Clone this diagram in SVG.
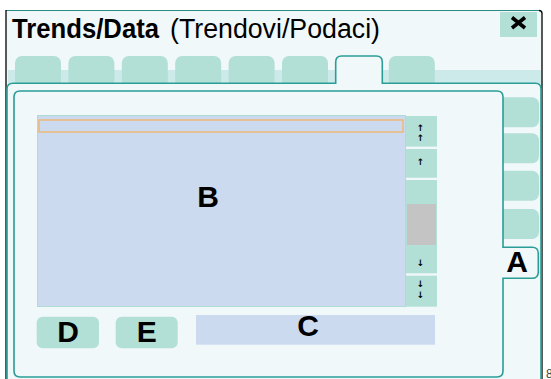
<svg xmlns="http://www.w3.org/2000/svg" width="551" height="379" viewBox="0 0 551 379">
<style>
.tab{fill:#b2dfd6}
.bg{fill:#f0f8fa}
.teal{stroke:#2a9d96;stroke-width:1.6;fill:#f0f8fa}
.blue{fill:#cbdaef}
.lbl{font-family:"Liberation Sans",Arial,sans-serif;font-weight:bold;font-size:30px;fill:#000;text-anchor:middle}
.arr{font-family:"DejaVu Sans",sans-serif;font-size:9px;font-weight:bold;fill:#000;text-anchor:middle}
.btn{fill:#b2dfd6}
.ttl{font-family:"Liberation Sans",Arial,sans-serif;font-size:27px;fill:#000}
</style>
<rect width="551" height="379" fill="#ffffff"/>
<g id="window">
  <rect x="6" y="10" width="536" height="372" class="bg"/>
  <line x1="6" y1="10.5" x2="539" y2="10.5" stroke="#2a8a86" stroke-width="1.2"/>
  <path d="M539,10.5 Q542,10.5 542,13.5 V379" fill="none" stroke="#000" stroke-width="1.3"/>
  <line x1="6" y1="10" x2="6" y2="379" stroke="#000" stroke-width="1.3"/>
</g>
<g id="title">
  <text x="12" y="38" class="ttl" font-weight="bold" textLength="147" lengthAdjust="spacingAndGlyphs">Trends/Data</text>
  <text x="170" y="38" class="ttl" textLength="210" lengthAdjust="spacingAndGlyphs">(Trendovi/Podaci)</text>
</g>
<g id="close">
  <rect x="500" y="12" width="37" height="25" class="btn"/>
  <path d="M512,17.5 L525,28 M525,17.5 L512,28" stroke="#000" stroke-width="3.6" fill="none"/>
</g>
<g id="tabs">
  <rect x="8" y="70" width="533" height="14" fill="#cdeaea"/>
  <rect x="15" y="56" width="46" height="32" rx="7" class="tab"/>
  <rect x="68.4" y="56" width="46" height="32" rx="7" class="tab"/>
  <rect x="121.8" y="56" width="46" height="32" rx="7" class="tab"/>
  <rect x="175.2" y="56" width="46" height="32" rx="7" class="tab"/>
  <rect x="228.6" y="56" width="46" height="32" rx="7" class="tab"/>
  <rect x="282" y="56" width="46" height="32" rx="7" class="tab"/>
  <rect x="388.8" y="56" width="46" height="32" rx="7" class="tab"/>
</g>
<g id="main-panel">
  <path d="M7,382 V89 Q7,83.3 13,83.3 H335.7 V62 Q335.7,56 341.7,56 H376.3 Q382.3,56 382.3,62 V83.3 H535.5 Q541,83.3 541,89 V382" class="teal"/>
</g>
<g id="side-tabs">
  <rect x="496" y="97.3" width="43" height="30" rx="7" class="tab"/>
  <rect x="496" y="133.3" width="43" height="30" rx="7" class="tab"/>
  <rect x="496" y="170.7" width="43" height="30" rx="7" class="tab"/>
  <rect x="496" y="209" width="43" height="30" rx="7" class="tab"/>
</g>
<g id="inner-panel">
  <path d="M20,91 H497 Q503,91 503,97 V247.3 H532 Q538.3,247.3 538.3,253.5 V272 Q538.3,278.3 532,278.3 H503 V371 Q503,377 497,377 H20 Q14,377 14,371 V97 Q14,91 20,91 Z" class="teal"/>
</g>
<g id="A">
  <text x="517" y="271.5" class="lbl">A</text>
</g>
<g id="B">
  <rect x="37.5" y="115.5" width="368" height="191" class="blue" stroke="#aedcd2" stroke-width="1"/>
  <rect x="39" y="120" width="364" height="12" fill="none" stroke="#f0b878" stroke-width="1.5"/>
  <text x="208" y="207" class="lbl">B</text>
</g>
<g id="scrollbar">
  <rect x="406" y="116" width="31" height="30.6" class="btn"/>
  <rect x="406" y="149" width="31" height="28.7" class="btn"/>
  <rect x="406" y="180" width="31" height="93.3" class="btn"/>
  <rect x="407" y="204" width="29" height="41" fill="#c4c4c4"/>
  <rect x="406" y="275.7" width="31" height="31" class="btn"/>
  <text x="420.5" y="131" class="arr">↑</text>
  <text x="420.5" y="141" class="arr">↑</text>
  <text x="420.5" y="164.5" class="arr">↑</text>
  <text x="420.5" y="265.5" class="arr">↓</text>
  <text x="420.5" y="287" class="arr">↓</text>
  <text x="420.5" y="298" class="arr">↓</text>
</g>
<g id="D">
  <rect x="36.7" y="316.7" width="62.3" height="31.6" rx="6" class="btn"/>
  <text x="68" y="341.7" class="lbl">D</text>
</g>
<g id="E">
  <rect x="115.7" y="316.7" width="62" height="31.6" rx="6" class="btn"/>
  <text x="146.7" y="341.7" class="lbl">E</text>
</g>
<g id="C">
  <rect x="196" y="315" width="239" height="29.7" class="blue"/>
  <text x="308" y="336.3" class="lbl">C</text>
</g>
<text x="546" y="378" font-family="Liberation Sans, Arial, sans-serif" font-size="12" fill="#444">8</text>
</svg>
